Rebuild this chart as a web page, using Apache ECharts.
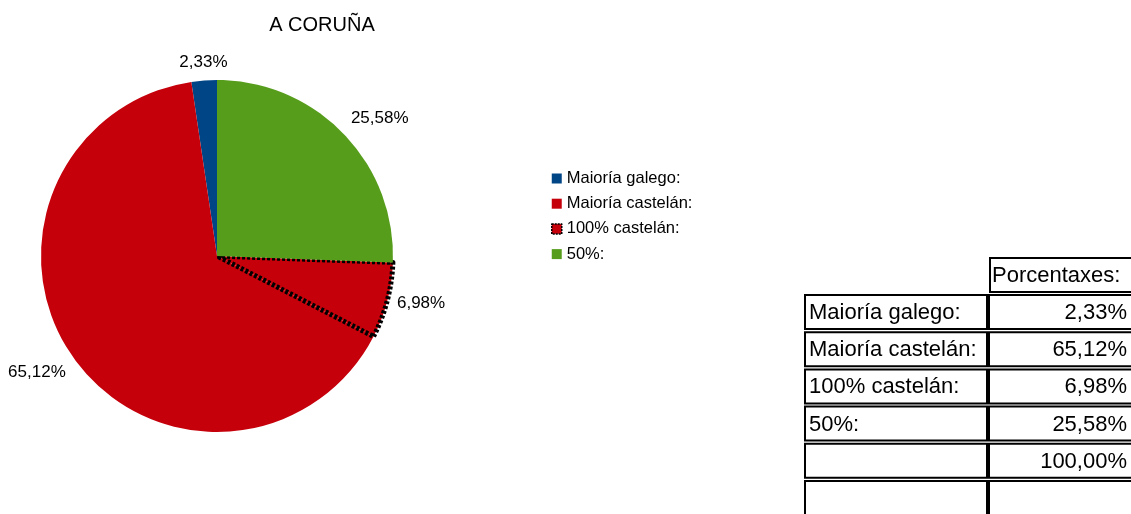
<!DOCTYPE html>
<html>
<head>
<meta charset="utf-8">
<script src="https://cdn.jsdelivr.net/npm/echarts@6/dist/echarts.min.js"></script>
<style>
  html, body { margin: 0; padding: 0; background: #fff; }
  #chart { width: 1131px; height: 514px; }
</style>
</head>
<body>
<div id="chart"></div>
<script>
// data
const categories = ['Maioría galego:', 'Maioría castelán:', '100% castelán:', '50%:'];
const shares = [2.33, 65.12, 6.98, 25.58];
const colors = ['#004586', '#c5000b', '#c5000b', '#579d1c'];
const tableHeader = 'Porcentaxes:';
const tableTotal = '100,00%';

const FONT = 'Liberation Sans, Arial, sans-serif';
const CX = 217, CY = 256, R = 176;
const total = shares.reduce((a, b) => a + b, 0);
const fmt = v => v.toFixed(2).replace('.', ',') + '%';

// table cells (graphic)
const rowLabels = categories.concat(['', '']);
const rowValues = shares.map(fmt).concat([tableTotal, '']);
const cells = [];
const cellStyle = { fill: '#fff', stroke: '#000', lineWidth: 2 };
const txt = (x, y, text, align) => ({
  type: 'text', x, y, silent: true,
  style: { text, fill: '#000', font: '22px ' + FONT, align, verticalAlign: 'middle' }
});
cells.push({ type: 'rect', shape: { x: 990, y: 258, width: 160, height: 34 }, style: cellStyle });
cells.push(txt(992, 276, tableHeader, 'left'));
rowLabels.forEach((lab, i) => {
  const y = 295 + i * 37.2;
  cells.push({ type: 'rect', shape: { x: 805, y, width: 182, height: 34 }, style: cellStyle });
  cells.push({ type: 'rect', shape: { x: 989, y, width: 160, height: 34 }, style: cellStyle });
  cells.push(txt(809, y + 18, lab, 'left'));
  cells.push(txt(1127, y + 18, rowValues[i], 'right'));
});

const dashed = { borderColor: '#000', borderWidth: 5, borderType: [3, 2] };

const chart = echarts.init(document.getElementById('chart'));
chart.setOption({
  animation: false,
  textStyle: { fontFamily: FONT },
  title: {
    text: 'A CORUÑA', left: 317, top: 10, textAlign: 'center',
    textStyle: { fontSize: 20, fontWeight: 'normal', color: '#000', fontFamily: FONT }
  },
  legend: {
    orient: 'vertical', left: 546, top: 165,
    icon: 'rect', itemWidth: 10, itemHeight: 10, itemGap: 8.2,
    textStyle: { fontSize: 16.5, lineHeight: 15, color: '#000', fontFamily: FONT },
    data: categories.map((name, i) => i === 2
      ? { name, itemStyle: { borderColor: '#000', borderWidth: 1.5, borderType: [2, 1] } }
      : { name })
  },
  series: [{
    type: 'pie',
    center: [CX, CY],
    radius: R,
    startAngle: 90,
    clockwise: false,
    avoidLabelOverlap: false,
    itemStyle: { borderWidth: 0 },
    label: {
      show: true, position: 'outside', color: '#000', fontSize: 17, fontFamily: FONT,
      formatter: p => fmt(p.value)
    },
    labelLine: { show: false },
    labelLayout: p => {
      const i = p.dataIndex;
      const before = shares.slice(0, i).reduce((a, b) => a + b, 0);
      const ang = (90 + (before + shares[i] / 2) / total * 360) * Math.PI / 180;
      const dx = Math.cos(ang), dy = -Math.sin(ang);
      const d = R + 10;
      return {
        x: CX + d * dx, y: CY + d * dy,
        align: dx > 0.2 ? 'left' : (dx < -0.2 ? 'right' : 'center'),
        verticalAlign: dy < -0.5 ? 'bottom' : (dy > 0.5 ? 'top' : 'middle')
      };
    },
    emphasis: { disabled: true },
    data: categories.map((name, i) => ({
      name, value: shares[i],
      itemStyle: i === 2 ? Object.assign({ color: colors[i] }, dashed) : { color: colors[i] }
    }))
  }],
  graphic: cells
});
</script>
</body>
</html>
